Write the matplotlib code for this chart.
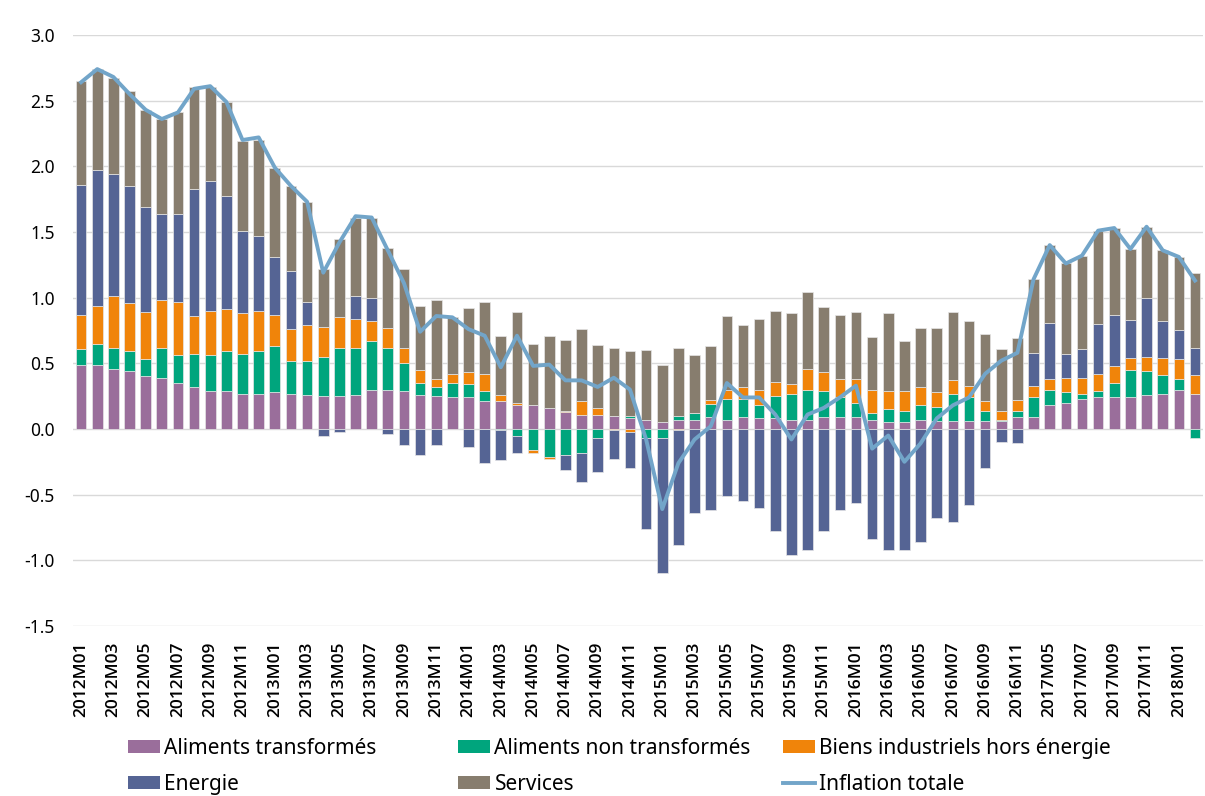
import numpy as np
import matplotlib.pyplot as plt
from matplotlib.patches import Patch
from matplotlib.lines import Line2D

plt.rcParams['font.family'] = ['Noto Sans', 'DejaVu Sans']
plt.rcParams['axes.unicode_minus'] = False

# categories (the source skips 2017M01-M04)
months = [f"{y}M{m:02d}" for y in range(2012, 2017) for m in range(1, 13)]
months += ["2017M05", "2017M06", "2017M07", "2017M08", "2017M09",
           "2017M10", "2017M11", "2017M12", "2018M01", "2018M02"]

alim_transf = [0.49, 0.49, 0.46, 0.44, 0.40, 0.39, 0.35, 0.32, 0.29, 0.29, 0.27, 0.27,
               0.28, 0.27, 0.26, 0.25, 0.25, 0.26, 0.30, 0.30, 0.29, 0.26, 0.25, 0.24,
               0.24, 0.21, 0.21, 0.18, 0.18, 0.16, 0.13, 0.11, 0.11, 0.10, 0.08, 0.07,
               0.05, 0.07, 0.07, 0.09, 0.07, 0.09, 0.08, 0.08, 0.07, 0.07, 0.09, 0.09,
               0.09, 0.07, 0.05, 0.05, 0.07, 0.06, 0.06, 0.06, 0.06, 0.06, 0.09, 0.09,
               0.18, 0.20, 0.23, 0.24, 0.24, 0.24, 0.26, 0.27, 0.30, 0.27]
alim_non_transf = [0.12, 0.16, 0.16, 0.15, 0.13, 0.23, 0.21, 0.25, 0.27, 0.30, 0.30, 0.32,
                   0.35, 0.25, 0.26, 0.30, 0.37, 0.36, 0.37, 0.32, 0.21, 0.09, 0.07, 0.11,
                   0.10, 0.08, -0.01, -0.05, -0.16, -0.21, -0.20, -0.18, -0.07, 0.00, 0.02, -0.07,
                   -0.07, 0.03, 0.05, 0.10, 0.16, 0.14, 0.10, 0.17, 0.20, 0.23, 0.20, 0.15,
                   0.11, 0.05, 0.10, 0.09, 0.11, 0.11, 0.21, 0.18, 0.08, 0.01, 0.05, 0.15,
                   0.12, 0.08, 0.04, 0.05, 0.11, 0.21, 0.18, 0.14, 0.08, -0.07]
biens_ind = [0.26, 0.29, 0.39, 0.37, 0.36, 0.36, 0.41, 0.29, 0.34, 0.32, 0.31, 0.31,
             0.24, 0.24, 0.27, 0.23, 0.23, 0.22, 0.15, 0.15, 0.12, 0.10, 0.06, 0.07,
             0.09, 0.13, 0.05, 0.02, -0.02, -0.02, 0.01, 0.10, 0.05, -0.01, -0.02, 0.00,
             0.00, -0.01, 0.00, 0.03, 0.07, 0.09, 0.12, 0.11, 0.07, 0.16, 0.14, 0.14,
             0.18, 0.18, 0.14, 0.15, 0.14, 0.11, 0.10, 0.09, 0.07, 0.07, 0.08, 0.09,
             0.08, 0.11, 0.12, 0.13, 0.13, 0.09, 0.11, 0.13, 0.15, 0.14]
energie = [0.99, 1.03, 0.93, 0.89, 0.80, 0.66, 0.67, 0.97, 0.99, 0.86, 0.63, 0.57,
           0.44, 0.44, 0.18, -0.05, -0.02, 0.17, 0.18, -0.04, -0.12, -0.20, -0.12, 0.00,
           -0.14, -0.26, -0.23, -0.13, 0.00, 0.00, -0.11, -0.22, -0.26, -0.22, -0.28, -0.69,
           -1.03, -0.87, -0.64, -0.62, -0.51, -0.55, -0.60, -0.78, -0.96, -0.92, -0.78, -0.62,
           -0.56, -0.84, -0.92, -0.92, -0.86, -0.68, -0.71, -0.58, -0.30, -0.10, -0.11, 0.25,
           0.43, 0.18, 0.22, 0.38, 0.39, 0.29, 0.45, 0.28, 0.22, 0.21]
services = [0.79, 0.77, 0.73, 0.72, 0.74, 0.72, 0.77, 0.77, 0.71, 0.72, 0.68, 0.73,
            0.68, 0.65, 0.76, 0.44, 0.60, 0.60, 0.61, 0.61, 0.60, 0.49, 0.60, 0.43,
            0.49, 0.55, 0.45, 0.69, 0.47, 0.55, 0.54, 0.55, 0.48, 0.52, 0.49, 0.53,
            0.44, 0.52, 0.44, 0.41, 0.56, 0.47, 0.54, 0.54, 0.54, 0.58, 0.50, 0.49,
            0.51, 0.40, 0.59, 0.38, 0.45, 0.49, 0.52, 0.49, 0.51, 0.47, 0.47, 0.56,
            0.59, 0.69, 0.71, 0.71, 0.66, 0.54, 0.54, 0.54, 0.56, 0.57]
inflation = [2.64, 2.74, 2.68, 2.55, 2.43, 2.36, 2.41, 2.59, 2.61, 2.49, 2.20, 2.22,
             1.99, 1.85, 1.73, 1.19, 1.42, 1.62, 1.61, 1.36, 1.11, 0.74, 0.86, 0.85,
             0.76, 0.71, 0.47, 0.71, 0.48, 0.49, 0.37, 0.37, 0.32, 0.39, 0.30, -0.08,
             -0.61, -0.26, -0.08, 0.02, 0.35, 0.24, 0.24, 0.11, -0.08, 0.11, 0.16, 0.24,
             0.33, -0.15, -0.05, -0.25, -0.11, 0.08, 0.18, 0.24, 0.42, 0.52, 0.58, 1.14,
             1.40, 1.26, 1.32, 1.51, 1.53, 1.37, 1.54, 1.36, 1.31, 1.13]

series = [("Aliments transformés", alim_transf, "#9A6E9B"),
          ("Aliments non transformés", alim_non_transf, "#00A57D"),
          ("Biens industriels hors énergie", biens_ind, "#F0840A"),
          ("Energie", energie, "#556494"),
          ("Services", services, "#877D6E")]
line_color = "#72A5C9"

fig = plt.figure(figsize=(12.05, 7.96), dpi=100)
ax = fig.add_axes([0.0606, 0.2136, 0.9378, 0.7425])

x = np.arange(len(months))
pos_base = np.zeros(len(months))
neg_base = np.zeros(len(months))
for name, vals, col in series:
    v = np.array(vals)
    bottom = np.where(v >= 0, pos_base, neg_base)
    ax.bar(x, v, bottom=bottom, width=0.66, color=col, edgecolor="#E6E6E6",
           linewidth=0.5, zorder=2)
    pos_base += np.where(v >= 0, v, 0)
    neg_base += np.where(v < 0, v, 0)

ax.plot(x, inflation, color=line_color, linewidth=2.8, zorder=3)

ax.set_xlim(-0.5, len(months) - 0.5)
ax.set_ylim(-1.5, 3.0)
ax.set_yticks(np.arange(-1.5, 3.01, 0.5))
ax.set_yticklabels([f"{t:.1f}" for t in np.arange(-1.5, 3.01, 0.5)], fontweight='medium')
ax.set_xticks(x[::2])
ax.set_xticklabels(months[::2], rotation=90, family=['Open Sans', 'Noto Sans'],
                   fontweight='semibold')
ax.tick_params(axis='both', length=0, labelsize=12.5)
ax.tick_params(axis='y', pad=13)
ax.tick_params(axis='x', pad=11)
ax.grid(axis='y', color="#D9D9D9", linewidth=1.0, zorder=0)
ax.set_axisbelow(True)
for s in ax.spines.values():
    s.set_visible(False)

# legend: three columns, each its own legend to mimic even spacing
h = {name: Patch(facecolor=col, edgecolor='none') for name, _, col in series}
h["Inflation totale"] = Line2D([0], [0], color=line_color, linewidth=2.8)
cols = [(["Aliments transformés", "Energie"], 128),
        (["Aliments non transformés", "Services"], 458),
        (["Biens industriels hors énergie", "Inflation totale"], 783)]
for names, px in cols:
    fig.legend([h[n] for n in names], names, loc='upper left',
               bbox_to_anchor=(px / 1205, 1 - 738 / 796), frameon=False,
               fontsize=15, handlelength=1.55, handleheight=0.6, handletextpad=0.2,
               labelspacing=0.7, borderpad=0, borderaxespad=0)

fig.savefig("out.png", dpi=100)
